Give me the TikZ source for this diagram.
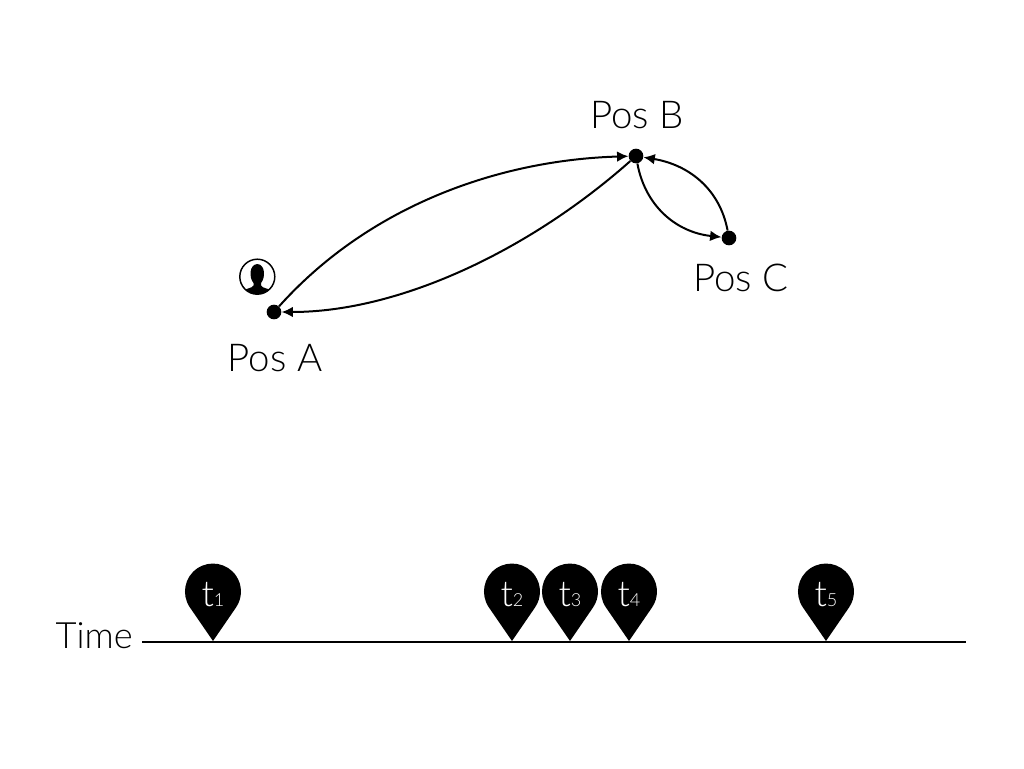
\documentclass[tikz,border=0pt]{standalone}
\usepackage{fontspec}
\setmainfont{Lato Light}
\usetikzlibrary{arrows.meta}
\tikzset{
  x=0.75pt,y=-0.75pt,
  dot/.style={circle,fill=black,minimum size=11pt,inner sep=0pt},
  lab/.style={font=\fontsize{28.8}{32}\selectfont,text=black,inner sep=0pt},
  timelab/.style={font=\fontsize{27.2}{32}\selectfont,text=black,inner sep=0pt,anchor=east},
  conn/.style={line width=1.5pt,-{Latex[length=8.5pt,width=8pt]}},
  pinlab/.style={font=\fontsize{27}{30}\selectfont,text=white,inner sep=0pt,anchor=base},
  pin/.pic={\fill[black] (0,0) -- (-23.1,-33.6) arc (145.5:394.5:28) -- cycle;}
}
\newcommand{\tlab}[1]{t{\fontsize{13.5}{14}\selectfont #1}}
\begin{document}
\begin{tikzpicture}
\useasboundingbox (0,0) rectangle (1024,768);
\node[dot] (A) at (274,312) {};
\node[dot] (B) at (636,156) {};
\node[dot] (C) at (729,238) {};
\node[lab] (la) at (275,358) {Pos A};
\node[lab] (lb) at (637,115) {Pos B};
\node[lab] (lc) at (741,278) {Pos C};
\draw[conn] (A) .. controls (370,205) and (500,160) .. (B);
\draw[conn] (B) .. controls (530,250) and (400,312) .. (A);
\draw[conn] (B) .. controls (645,205) and (675,232) .. (C);
\draw[conn] (C) .. controls (720,190) and (690,165) .. (B);
% user icon
\begin{scope}
\clip (257.3,276.7) circle (17.5);
\fill (238,298) -- (243,291) .. controls (246,288) and (252,288.5) .. (253.5,285.5) -- (253.5,283)
  .. controls (249,278) and (249,264.5) .. (257.3,264)
  .. controls (265.5,264.5) and (265.5,278) .. (261,283) -- (261,285.5)
  .. controls (262.5,288.5) and (268.5,288) .. (271.5,291) -- (276.5,298) -- cycle;
\end{scope}
\draw[line width=1.1pt] (257.3,276.7) circle (17.5);
% timeline
\coordinate (ts) at (142,641.5);
\coordinate (te) at (966,641.5);
\node[timelab] (time) at (133,636) {Time};
\draw[line width=1.5pt] (ts) -- (te);
\foreach \x/\n in {213/1,512/2,570/3,629/4,826/5}{
  \pic at (\x,641) {pin};
  \node[pinlab] (t\n) at (\x,606) {\tlab{\n}};
}
\end{tikzpicture}
\end{document}
